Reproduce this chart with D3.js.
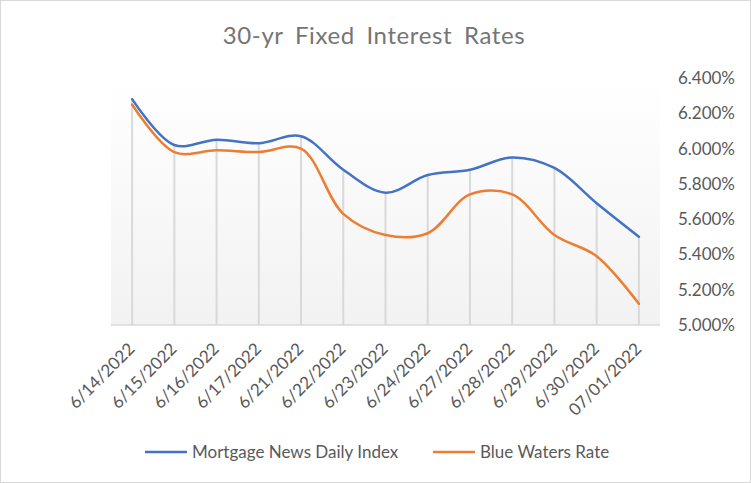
<!DOCTYPE html>
<html><head><meta charset="utf-8">
<script src="https://cdn.jsdelivr.net/npm/d3@7"></script>
<style>body{margin:0;background:#fff}svg{display:block}text{font-family:Lato,"Open Sans",sans-serif;fill:#595959}</style>
</head><body><svg id="c" width="751" height="483"></svg>
<script>
const categories = ["6/14/2022","6/15/2022","6/16/2022","6/17/2022","6/21/2022","6/22/2022","6/23/2022","6/24/2022","6/27/2022","6/28/2022","6/29/2022","6/30/2022","07/01/2022"];
const mortgageNews = [6.28,6.02,6.05,6.03,6.07,5.88,5.75,5.85,5.88,5.95,5.89,5.69,5.50];
const blueWaters = [6.25,5.98,5.99,5.98,6.00,5.63,5.51,5.52,5.74,5.74,5.51,5.39,5.12];
const yTicks = [5.0,5.2,5.4,5.6,5.8,6.0,6.2,6.4];
const seriesNames = ["Mortgage News Daily Index","Blue Waters Rate"];
const colors = ["#4472C4","#ED7D31"];

const svg = d3.select("#c");
svg.append("rect").attr("x",0.5).attr("y",0.5).attr("width",750).attr("height",482).attr("fill","#fff").attr("stroke","#d9d9d9");

const L=111,R=660,T=78,B=325;
const x = d3.scalePoint().domain(categories).range([L,R]).padding(0.5);
const y = d3.scaleLinear().domain([5.0,6.4]).range([B,T]);

const defs = svg.append("defs");
const g = defs.append("linearGradient").attr("id","bg").attr("x1",0).attr("y1",0).attr("x2",0).attr("y2",1);
g.append("stop").attr("offset","0%").attr("stop-color","#ffffff");
g.append("stop").attr("offset","100%").attr("stop-color","#f2f2f2");
svg.append("rect").attr("x",L).attr("y",T).attr("width",R-L).attr("height",B-T).attr("fill","url(#bg)");

svg.append("text").attr("x",374).attr("y",44).attr("text-anchor","middle").attr("font-size",24)
  .style("fill","#757575").style("letter-spacing","0.6px").style("word-spacing","5px").text("30-yr Fixed Interest Rates");

// drop lines
svg.append("g").selectAll("line").data(categories).join("line")
  .attr("x1",d=>x(d)).attr("x2",d=>x(d))
  .attr("y1",B).attr("y2",(d,i)=>y(Math.max(mortgageNews[i],blueWaters[i])))
  .attr("stroke","#d9d9d9").attr("stroke-width",2);

svg.append("line").attr("x1",L).attr("x2",R).attr("y1",B).attr("y2",B).attr("stroke","#d9d9d9").attr("stroke-width",1.5);

// y axis labels
const ya = d3.axisRight(y).tickValues(yTicks).tickSize(0).tickFormat(d=>d.toFixed(3)+"%");
const yg = svg.append("g").attr("transform",`translate(735,0)`).call(ya);
yg.select(".domain").remove();
yg.selectAll("text").attr("x",0).attr("text-anchor","end").attr("font-size",17).style("font-family","Lato,'Open Sans',sans-serif").attr("fill","#595959");

// x axis labels
const xa = d3.axisBottom(x).tickSize(0);
const xg = svg.append("g").attr("transform",`translate(0,${B})`).call(xa);
xg.select(".domain").remove();
xg.selectAll("text").attr("font-size",17).style("font-family","Lato,'Open Sans',sans-serif").attr("fill","#595959")
  .attr("text-anchor","end").attr("y",0).attr("dy",0)
  .attr("transform","translate(3,25) rotate(-45)");

const line = d3.line().x((d,i)=>x(categories[i])).y(d=>y(d)).curve(d3.curveCatmullRom.alpha(0.5));
[mortgageNews,blueWaters].forEach((s,k)=>{
  svg.append("path").datum(s).attr("d",line).attr("fill","none").attr("stroke",colors[k]).attr("stroke-width",2.5).attr("stroke-linecap","round");
});

// legend
const lg = [{x:145,tx:192},{x:433,tx:480}];
seriesNames.forEach((n,k)=>{
  svg.append("line").attr("x1",lg[k].x).attr("x2",lg[k].x+42).attr("y1",452).attr("y2",452).attr("stroke",colors[k]).attr("stroke-width",2.5);
  svg.append("text").attr("x",lg[k].tx).attr("y",452).attr("dy","0.35em").attr("font-size",17).text(n);
});
</script></body></html>
